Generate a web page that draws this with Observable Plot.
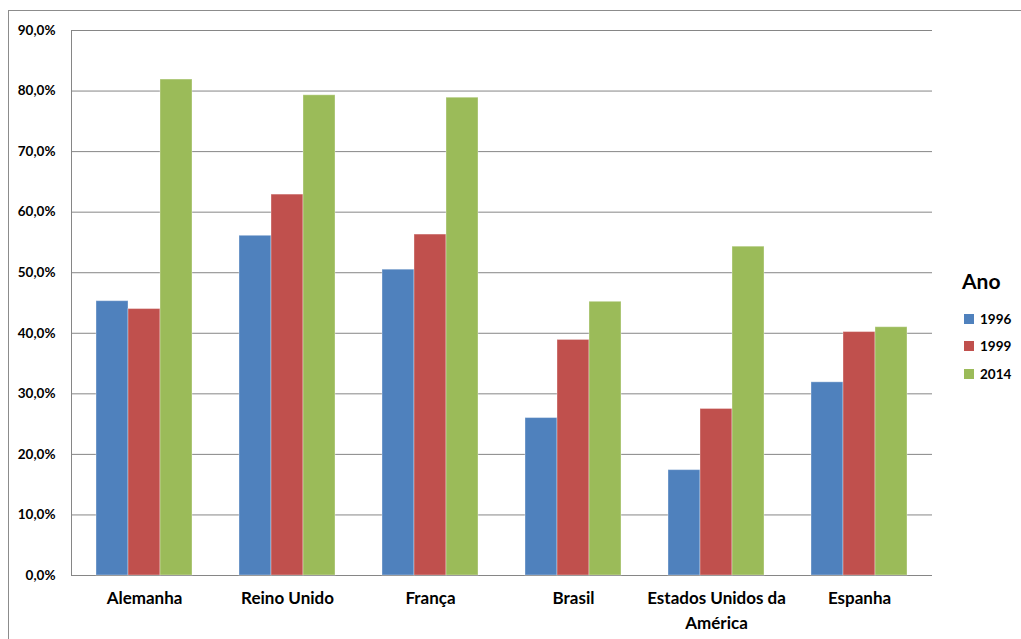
<!DOCTYPE html>
<html>
<head>
<meta charset="utf-8">
<script src="https://cdn.jsdelivr.net/npm/d3@7"></script>
<script src="https://cdn.jsdelivr.net/npm/@observablehq/plot@0.6"></script>
<style>
  html, body { margin: 0; padding: 0; background: #fff; overflow: hidden; }
  #wrap { position: relative; width: 1021px; height: 639px; font-family: Lato, "Open Sans", sans-serif; }
  #border { position: absolute; left: 8px; top: 10px; width: 2000px; height: 2000px; border: 1px solid #8c8c8c; box-sizing: border-box; }
  .layer { position: absolute; left: 0; top: 0; }
  #legend { position: absolute; left: 962px; top: 268px; font-weight: 700; color: #000; }
  #legend .title { font-size: 21px; margin-bottom: 12px; }
  #legend .item { display: flex; align-items: center; font-size: 13.5px; height: 27.5px; }
  #legend .sw { width: 10px; height: 10px; margin: 0 6px 0 2px; }
</style>
</head>
<body>
<div id="wrap">
  <div id="border"></div>
  <div id="axes" class="layer"></div>
  <div id="bars" class="layer"></div>
  <div id="legend"></div>
</div>
<script>
// Países e anos
const countries = ["Alemanha", "Reino Unido", "França", "Brasil", "Estados Unidos da América", "Espanha"];
const years = ["1996", "1999", "2014"];
const colors = ["#4F81BD", "#C0504D", "#9BBB59"];

// Percentual por ano (%)
const values1996 = [45.3, 56.1, 50.5, 26.0, 17.4, 31.9];
const values1999 = [44.0, 62.9, 56.3, 38.9, 27.5, 40.2];
const values2014 = [81.9, 79.3, 78.9, 45.2, 54.3, 41.0];

const yTicks = [0, 10, 20, 30, 40, 50, 60, 70, 80, 90];
const countryLabels = {"Estados Unidos da América": "Estados Unidos da\nAmérica"};
const legendTitle = "Ano";

const series = [values1996, values1999, values2014];
const data = [];
countries.forEach((c, i) => {
  years.forEach((y, j) => data.push({country: c, year: y, value: series[j][i]}));
});

const fmt = d => d.toFixed(1).replace(".", ",") + "%";
const font = "Lato, 'Open Sans', sans-serif";

// Shared frame so both layers line up exactly
const frame = {
  width: 1021,
  height: 639,
  marginLeft: 71,
  marginRight: 89,
  marginTop: 30,
  marginBottom: 64,
  style: {fontFamily: font, background: "transparent", overflow: "visible"}
};
const band = {paddingInner: 0.33, paddingOuter: 0.165};
const yScale = {domain: [0, 90], ticks: yTicks, label: null};
const gridColor = "#868686";

// Layer 1: gridlines, axis lines and tick labels
const axes = Plot.plot({
  ...frame,
  x: {domain: countries, ...band, label: null},
  y: yScale,
  marks: [
    Plot.ruleY(yTicks, {stroke: gridColor, strokeWidth: 1}),
    Plot.frame({anchor: "left", stroke: gridColor, strokeWidth: 1}),
    Plot.axisY({ticks: yTicks, tickFormat: fmt, tickSize: 0, tickPadding: 16, fontSize: 13.5, fontWeight: 700, fill: "#000", label: null}),
    Plot.axisX({tickSize: 0, tickPadding: 11, fontSize: 17, fontWeight: 700, fill: "#000", lineHeight: 1.47,
      tickFormat: d => countryLabels[d] ?? d, label: null})
  ]
});
document.getElementById("axes").appendChild(axes);

// Layer 2: grouped bars, one facet per country
const bars = Plot.plot({
  ...frame,
  fx: {domain: countries, ...band, axis: null, label: null},
  x: {domain: years, padding: 0, axis: null},
  y: {...yScale, axis: null},
  color: {domain: years, range: colors},
  marks: [
    Plot.barY(data, {fx: "country", x: "year", y: "value", fill: "year", stroke: "#ffffff", strokeOpacity: 0.35, strokeWidth: 1})
  ]
});
document.getElementById("bars").appendChild(bars);

// Legenda
const legend = document.getElementById("legend");
const t = document.createElement("div");
t.className = "title";
t.textContent = legendTitle;
legend.appendChild(t);
years.forEach((y, j) => {
  const it = document.createElement("div");
  it.className = "item";
  const sw = document.createElement("span");
  sw.className = "sw";
  sw.style.background = colors[j];
  const lb = document.createElement("span");
  lb.textContent = y;
  it.appendChild(sw);
  it.appendChild(lb);
  legend.appendChild(it);
});
</script>
</body>
</html>
